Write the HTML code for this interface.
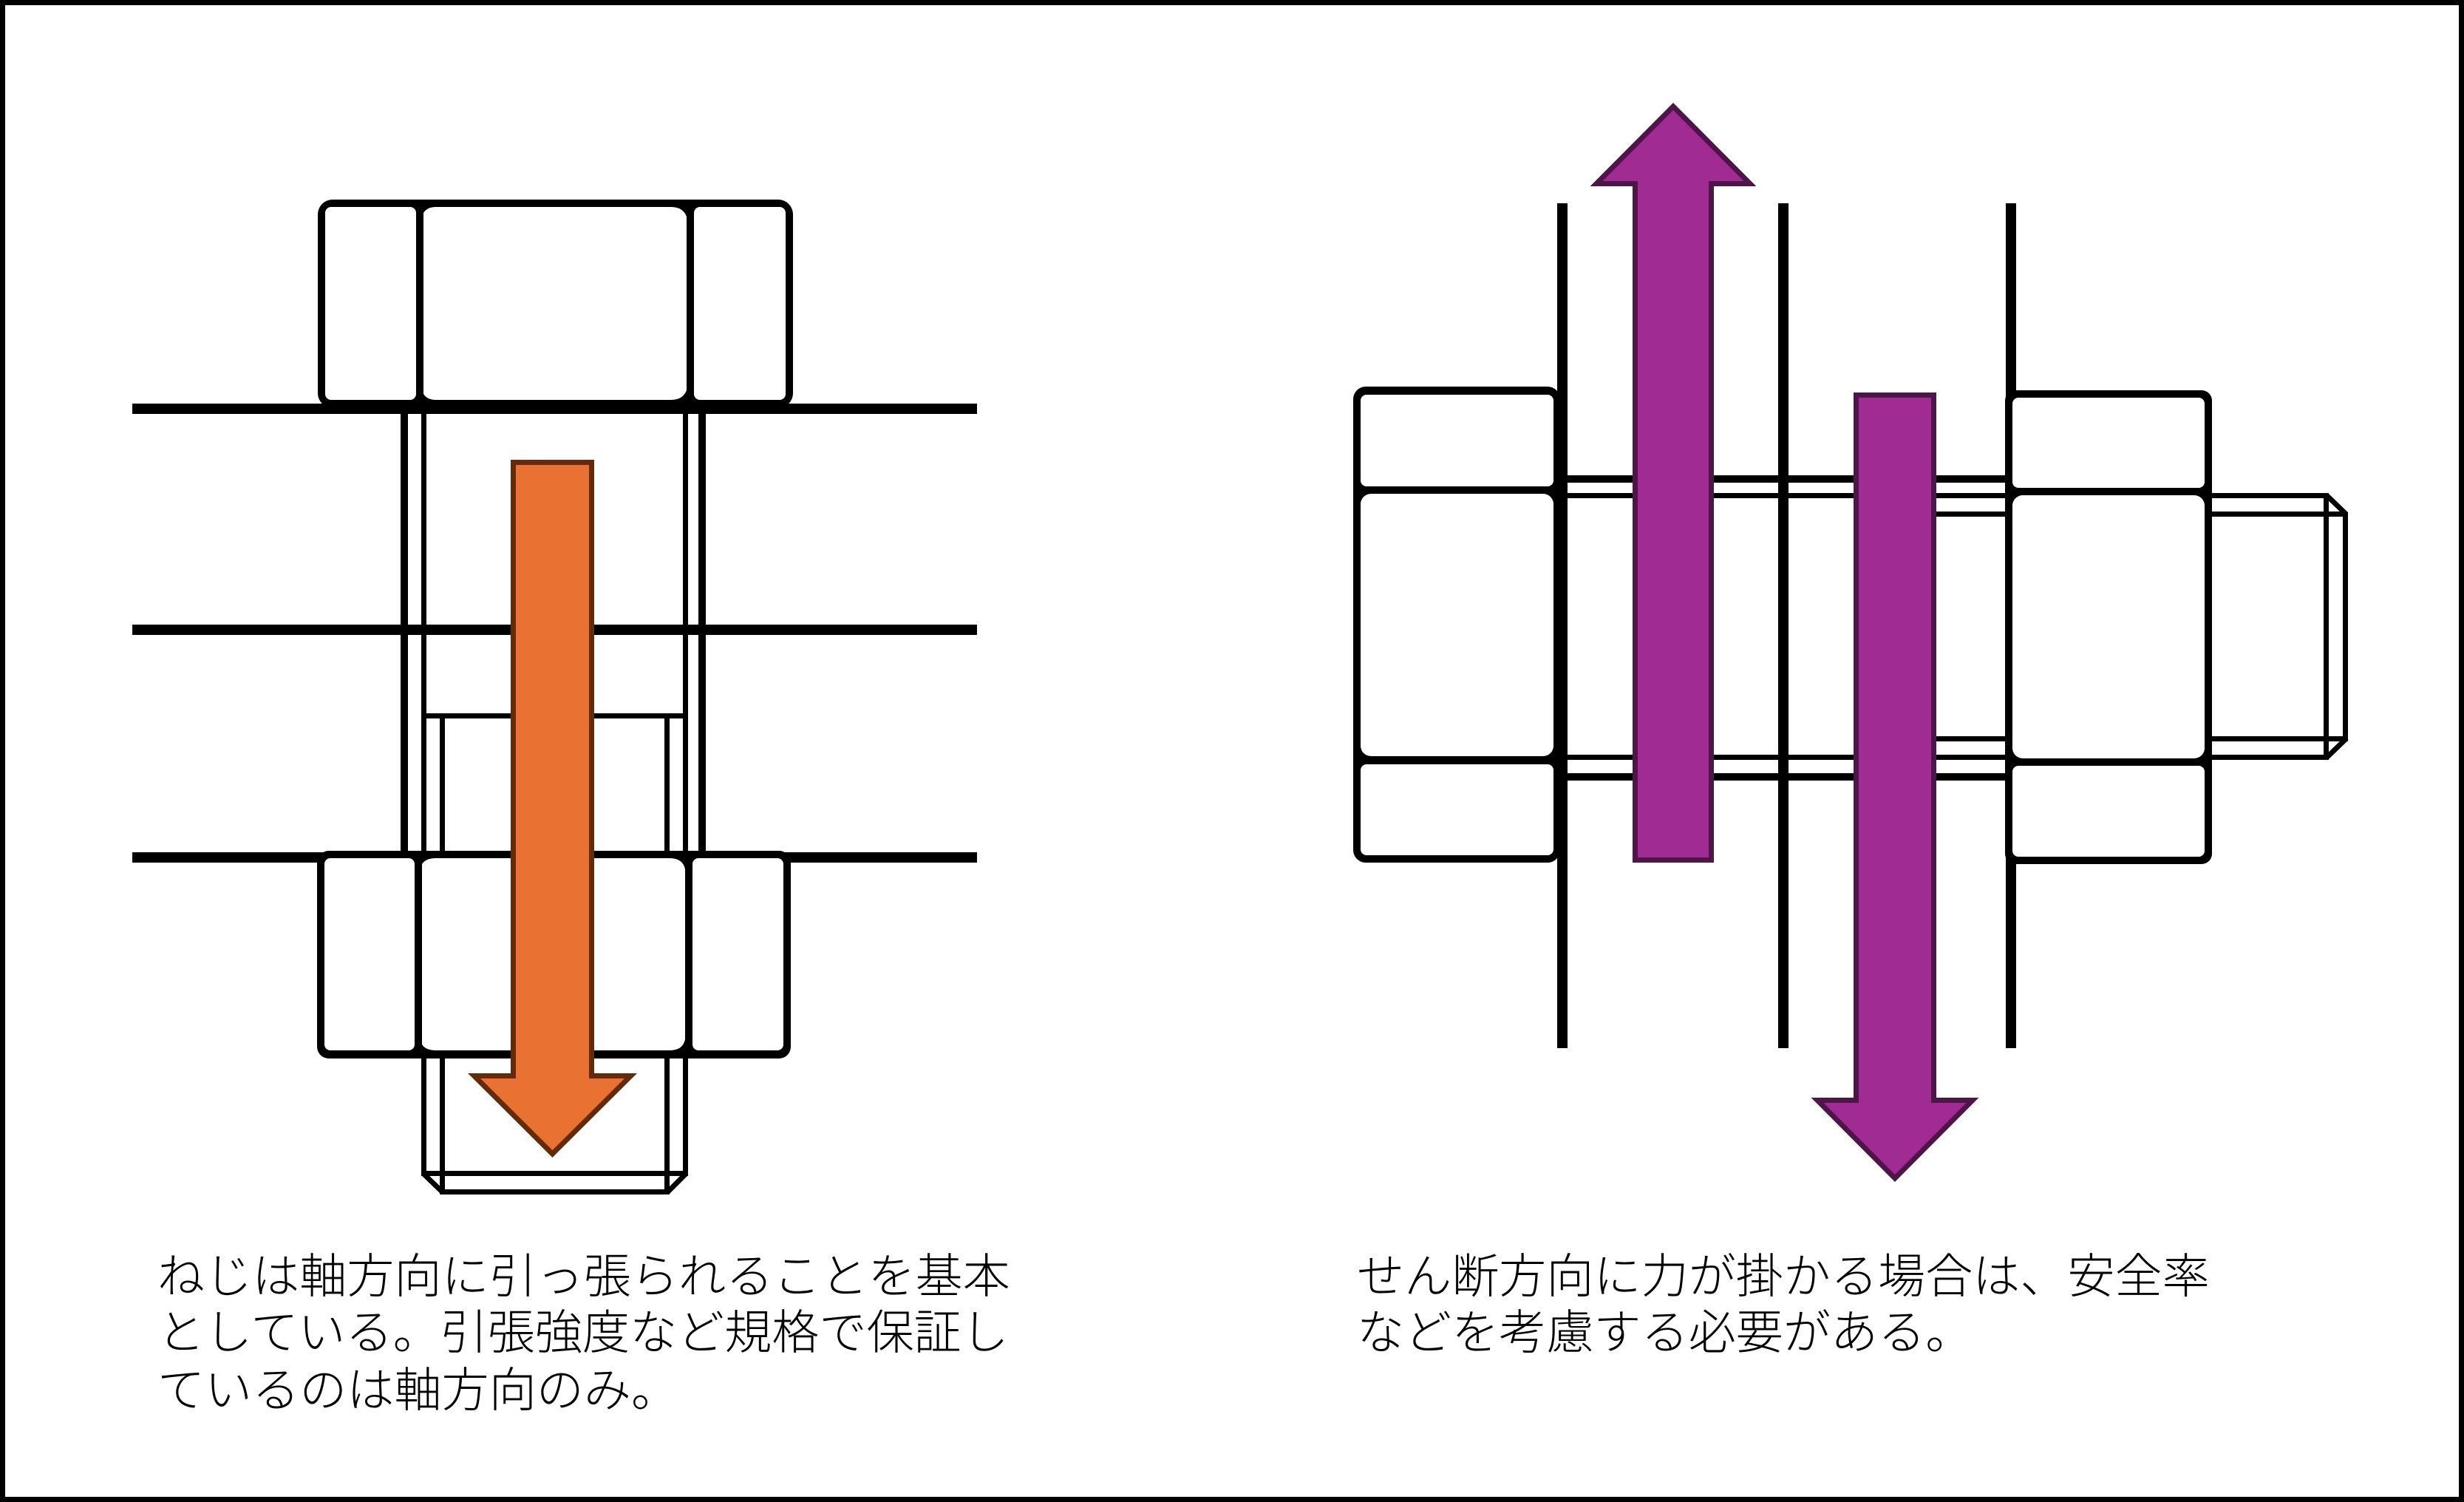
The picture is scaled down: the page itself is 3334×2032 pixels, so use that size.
<!DOCTYPE html>
<html lang="ja"><head><meta charset="utf-8"><title>ねじの軸方向とせん断方向</title>
<style>
html,body{margin:0;padding:0;background:#fff;width:3334px;height:2032px;overflow:hidden}
svg{display:block}
text{font-family:"Liberation Sans","Noto Sans CJK JP",sans-serif;font-size:64px;font-weight:300;fill:#000}
</style></head><body>
<svg xmlns="http://www.w3.org/2000/svg" width="3334" height="2032" viewBox="0 0 3334 2032">
<rect width="3334" height="2032" fill="#fff"/>
<rect x="3.5" y="3.5" width="3327" height="2025" fill="none" stroke="#000" stroke-width="7"/>

<!-- LEFT: plates -->
<g fill="#000">
<rect x="179" y="546" width="1143" height="14"/>
<rect x="179" y="845" width="1143" height="14"/>
<rect x="179" y="1153" width="1143" height="14"/>
<!-- shank -->
<rect x="542" y="555" width="10" height="600"/>
<rect x="945" y="555" width="10" height="600"/>
<rect x="570" y="555" width="7" height="1033"/>
<rect x="924" y="555" width="7" height="1033"/>
<rect x="570" y="965" width="361" height="7"/>
<rect x="595" y="965" width="7" height="651"/>
<rect x="899" y="965" width="7" height="651"/>
<rect x="570" y="1584" width="361" height="7"/>
<rect x="597" y="1609" width="307" height="7"/>
</g>
<path d="M572 1587 L599 1613 M929 1587 L903 1613" stroke="#000" stroke-width="7" fill="none"/>

<!-- LEFT: head -->
<rect x="430" y="270" width="643" height="282" rx="20" fill="#000"/>
<g fill="#fff">
<rect x="440" y="280" width="123" height="261" rx="8"/>
<path d="M573 288 Q578 280 590 280 L908 280 Q924 280 929 293 L929 528 Q924 541 908 541 L590 541 Q578 541 573 533 Z"/>
<rect x="939" y="280" width="124" height="261" rx="8"/>
</g>
<!-- LEFT: nut -->
<rect x="429" y="1151" width="641" height="281" rx="16" fill="#000"/>
<g fill="#fff">
<rect x="439" y="1161" width="122" height="260" rx="8"/>
<path d="M571 1169 Q576 1161 590 1161 L906 1161 Q924 1161 927 1176 L927 1406 Q924 1421 906 1421 L590 1421 Q576 1421 571 1413 Z"/>
<rect x="937" y="1161" width="123" height="260" rx="8"/>
</g>
<!-- LEFT: arrow -->
<path d="M694.5 625.5 H800.5 V1455.5 H853.5 L747.5 1561 L641.5 1455.5 H694.5 Z" fill="#E97132" stroke="#632B0C" stroke-width="7"/>

<!-- RIGHT: plates -->
<g fill="#000">
<rect x="2107" y="275" width="14" height="1143"/>
<rect x="2406" y="275" width="14" height="1143"/>
<rect x="2714" y="275" width="14" height="1143"/>
<!-- shank -->
<rect x="2114" y="643" width="600" height="10"/>
<rect x="2114" y="1046" width="600" height="10"/>
<rect x="2114" y="667" width="1034" height="7"/>
<rect x="2114" y="1021" width="1034" height="7"/>
<rect x="2560" y="667" width="7" height="361"/>
<rect x="2560" y="692" width="616" height="7"/>
<rect x="2560" y="996" width="616" height="7"/>
<rect x="3144" y="667" width="7" height="361"/>
<rect x="3170" y="694" width="7" height="309"/>
</g>
<path d="M3148 670 L3175 696 M3175 999 L3148 1025" stroke="#000" stroke-width="7" fill="none"/>

<!-- RIGHT: left nut -->
<rect x="1831" y="523" width="280" height="644" rx="17" fill="#000"/>
<g fill="#fff">
<rect x="1841" y="534" width="261" height="124" rx="8"/>
<rect x="1841" y="668" width="261" height="355" rx="14"/>
<rect x="1841" y="1034" width="261" height="123" rx="8"/>
</g>
<!-- RIGHT: right nut -->
<rect x="2713" y="528" width="280" height="641" rx="14" fill="#000"/>
<g fill="#fff">
<rect x="2723" y="538" width="260" height="122" rx="8"/>
<rect x="2723" y="670" width="260" height="356" rx="14"/>
<rect x="2723" y="1036" width="260" height="123" rx="8"/>
</g>

<!-- RIGHT: arrows -->
<path d="M2212.5 1163.5 V248.5 H2160 L2264 144 L2368 248.5 H2315.5 V1163.5 Z" fill="#A02B93" stroke="#4E1548" stroke-width="7"/>
<path d="M2511.5 534.5 H2616.5 V1488.5 H2669 L2564 1594 L2459 1488.5 H2511.5 Z" fill="#A02B93" stroke="#4E1548" stroke-width="7"/>

<!-- captions -->
<text x="213" y="1749" letter-spacing="0.1">ねじは軸方向に引っ張られることを基本</text>
<text x="213" y="1825" letter-spacing="0.1">としている。引張強度など規格で保証し</text>
<text x="213" y="1903" letter-spacing="0.1">ているのは軸方向のみ。</text>
<text x="1836" y="1749" letter-spacing="0.1">せん断方向に力が掛かる場合は、安全率</text>
<text x="1836" y="1825" letter-spacing="0.1">などを考慮する必要がある。</text>
</svg>
</body></html>
